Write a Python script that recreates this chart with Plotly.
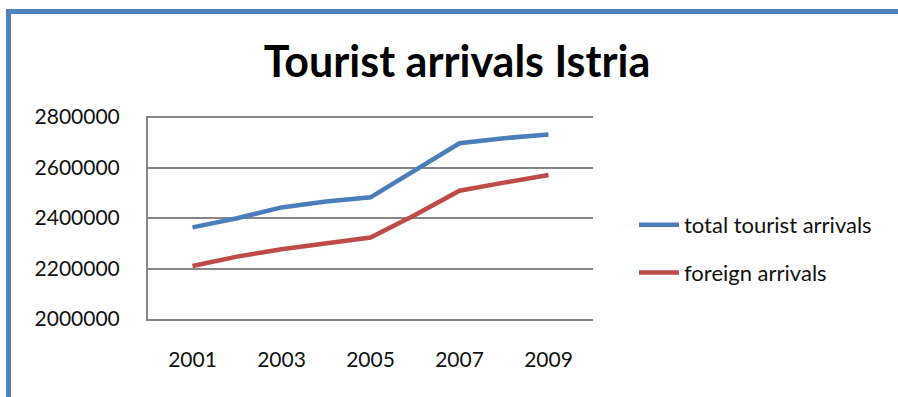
import plotly.graph_objects as go

years = [2001, 2002, 2003, 2004, 2005, 2006, 2007, 2008, 2009]
total_arrivals = [2363000, 2399000, 2442000, 2465000, 2482000, 2590000, 2696000, 2716000, 2731000]
foreign_arrivals = [2210000, 2247000, 2276000, 2300000, 2323000, 2412000, 2508000, 2540000, 2570000]
series_names = ["total tourist arrivals", "foreign arrivals"]
x_ticks = [2001, 2003, 2005, 2007, 2009]
y_ticks = [2000000, 2200000, 2400000, 2600000, 2800000]

W, H = 898, 397
L, R, T, B = 148, 593, 116, 319  # plot area in pixels


def px_x(x):
    return (x - L) / (R - L)


def px_y(y):
    return (B - y) / (B - T)


BLUE = "#4A7EBB"
RED = "#BE4B48"
GRID = "#878787"
BORDER = "#4F81BD"
FONT = "Lato, Open Sans, sans-serif"

fig = go.Figure()
fig.add_trace(go.Scatter(x=years, y=total_arrivals, name=series_names[0], mode="lines",
                         line=dict(color=BLUE, width=4.5), legendgroup="a"))
fig.add_trace(go.Scatter(x=years, y=foreign_arrivals, name=series_names[1], mode="lines",
                         line=dict(color=RED, width=4.5), legendgroup="b"))

fig.update_layout(
    width=W, height=H,
    margin=dict(l=L, r=W - R, t=T, b=H - B, pad=0),
    paper_bgcolor="white", plot_bgcolor="white",
    font=dict(family=FONT, color="#111111", size=21),
    title=dict(text="<b>Tourist arrivals Istria</b>", x=457 / W, xanchor="center",
               y=1 - 62 / H, yanchor="middle",
               font=dict(family=FONT, size=43, color="#000000")),
    showlegend=True,
    legend=dict(x=px_x(634), y=px_y(204), xanchor="left", yanchor="top",
                font=dict(family=FONT, size=22, color="#111111"),
                tracegroupgap=16, bgcolor="rgba(0,0,0,0)", itemwidth=40),
    xaxis=dict(range=[2000, 2010], tickvals=x_ticks, ticktext=[str(v) for v in x_ticks],
               showgrid=False, zeroline=False, showline=True, linecolor=GRID, linewidth=2,
               ticks="", ticklabelstandoff=21, tickfont=dict(size=21)),
    yaxis=dict(range=[2000000, 2804000], tickvals=y_ticks, ticktext=[str(v) for v in y_ticks],
               showgrid=True, gridcolor=GRID, gridwidth=2, zeroline=False,
               showline=True, linecolor=GRID, linewidth=2,
               ticks="", ticklabelstandoff=22, tickfont=dict(size=21)),
    shapes=[
        dict(type="line", xref="paper", yref="paper", x0=px_x(8.5), x1=px_x(8.5),
             y0=px_y(9), y1=px_y(H + 5), line=dict(color=BORDER, width=5)),
        dict(type="line", xref="paper", yref="paper", x0=px_x(6), x1=px_x(W + 5),
             y0=px_y(11.5), y1=px_y(11.5), line=dict(color=BORDER, width=5)),
    ],
)

fig.write_html("out.html")
